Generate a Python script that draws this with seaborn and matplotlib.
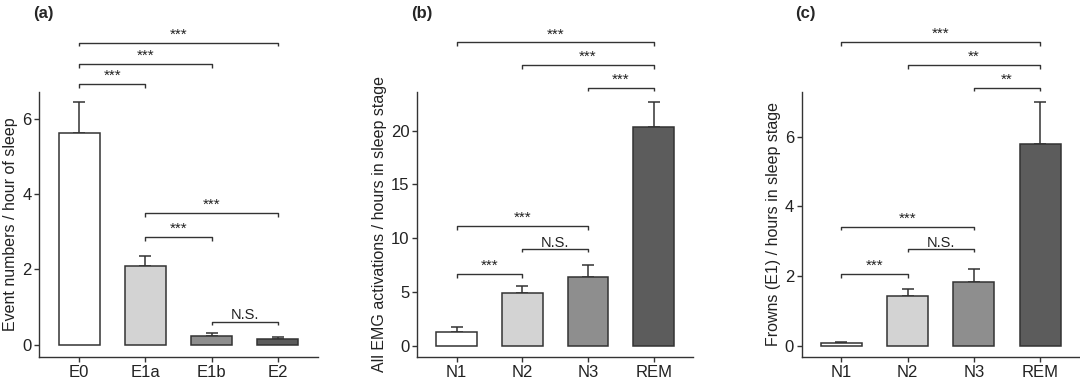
import seaborn as sns
import matplotlib.pyplot as plt
import pandas as pd

# panel (a)
cats_a = ['E0', 'E1a', 'E1b', 'E2']
mean_a = [5.63, 2.08, 0.24, 0.15]
err_a = [0.82, 0.29, 0.08, 0.05]
# panel (b)
cats_b = ['N1', 'N2', 'N3', 'REM']
mean_b = [1.28, 4.88, 6.40, 20.3]
err_b = [0.43, 0.68, 1.06, 2.4]
# panel (c)
cats_c = ['N1', 'N2', 'N3', 'REM']
mean_c = [0.07, 1.44, 1.82, 5.79]
err_c = [0.04, 0.20, 0.38, 1.20]

# significance brackets: (from, to, height, label)
sig_a = [(0, 3, 8.02, '***'), (0, 2, 7.45, '***'), (0, 1, 6.92, '***'),
         (1, 3, 3.49, '***'), (1, 2, 2.86, '***'), (2, 3, 0.62, 'N.S.')]
sig_b = [(0, 3, 28.2, '***'), (1, 3, 26.1, '***'), (2, 3, 24.0, '***'),
         (0, 2, 11.1, '***'), (1, 2, 9.0, 'N.S.'), (0, 1, 6.65, '***')]
sig_c = [(0, 3, 8.70, '***'), (1, 3, 8.05, '**'), (2, 3, 7.40, '**'),
         (0, 2, 3.42, '***'), (1, 2, 2.78, 'N.S.'), (0, 1, 2.05, '***')]

fills = ['#ffffff', '#d3d3d3', '#8e8e8e', '#5c5c5c']
edge = '#333333'

sns.set_style('ticks')
plt.rcParams['font.family'] = ['Liberation Sans', 'DejaVu Sans']

fig = plt.figure(figsize=(10.8, 3.83), dpi=100)


def bracket(ax, x1, x2, y, text, h):
    ax.plot([x1, x1, x2, x2], [y - h, y, y, y - h], color=edge, lw=1,
            clip_on=False, solid_capstyle='butt')
    if text == 'N.S.':
        ax.annotate(text, ((x1 + x2) / 2, y), xytext=(0, 1.5), textcoords='offset points',
                    ha='center', va='baseline', fontsize=10.5, color='#222222',
                    annotation_clip=False)
    else:
        ax.annotate(text, ((x1 + x2) / 2, y), xytext=(0, 3), textcoords='offset points',
                    ha='center', va='baseline', fontsize=11, color='#222222',
                    annotation_clip=False)


def panel(rect, cats, means, errs, sigs, ylim, yticks, ylabel, tag):
    ax = fig.add_axes(rect)
    df = pd.DataFrame({'cat': cats, 'val': means})
    sns.barplot(data=df, x='cat', y='val', hue='cat', palette=fills, legend=False,
                edgecolor=edge, linewidth=1.1, width=0.62, errorbar=None, ax=ax,
                zorder=3)
    ax.errorbar(range(len(cats)), means, yerr=[[0] * len(cats), errs], fmt='none',
                ecolor=edge, elinewidth=1.1, capsize=4.5, capthick=1.1, zorder=2)
    ax.set_xlim(-0.6, len(cats) - 0.4)
    ax.set_ylim(*ylim)
    ax.set_yticks(yticks)
    ax.set_xlabel('')
    ax.set_ylabel(ylabel, fontsize=11.5, color='#222222', labelpad=3)
    ax.tick_params(labelsize=12, colors='#333333', labelcolor='#222222',
                   length=3.5, width=1, pad=2)
    for s in ['left', 'bottom']:
        ax.spines[s].set_color('#333333')
        ax.spines[s].set_linewidth(1)
    sns.despine(ax=ax)
    ppu = rect[3] * 383 / (ylim[1] - ylim[0])
    for x1, x2, y, t in sigs:
        bracket(ax, x1, x2, y, t, 3.5 / ppu)
    fig.text(rect[0] - 0.006, 0.965, tag, fontsize=12, fontweight='bold',
             ha='left', va='center')
    return ax


bottom = 0.068
height = 0.692
panel([0.0365, bottom, 0.2575, height], cats_a, mean_a, err_a, sig_a,
      (-0.32, 6.71), [0, 2, 4, 6], 'Event numbers / hour of sleep', '(a)')
panel([0.3864, bottom, 0.2553, height], cats_b, mean_b, err_b, sig_b,
      (-1.05, 23.6), [0, 5, 10, 15, 20], 'All EMG activations / hours in sleep stage', '(b)')
panel([0.7423, bottom, 0.2575, height], cats_c, mean_c, err_c, sig_c,
      (-0.32, 7.28), [0, 2, 4, 6], 'Frowns (E1) / hours in sleep stage', '(c)')

plt.savefig('out.png', dpi=100)
